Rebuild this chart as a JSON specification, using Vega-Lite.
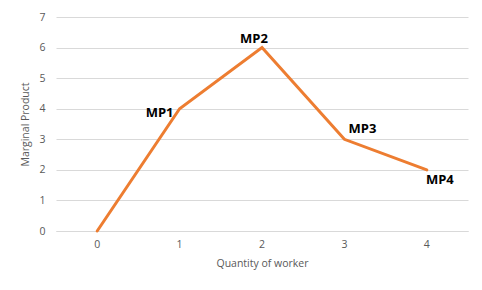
{
  "$schema": "https://vega.github.io/schema/vega-lite/v6.json",
  "autosize": "none",
  "width": 412,
  "height": 214,
  "padding": {"left": 56, "top": 17, "right": 14, "bottom": 59},
  "background": "white",
  "data": {"values": [
    {"q": "0", "mp": 0, "label": ""},
    {"q": "1", "mp": 4, "label": "MP1"},
    {"q": "2", "mp": 6, "label": "MP2"},
    {"q": "3", "mp": 3, "label": "MP3"},
    {"q": "4", "mp": 2, "label": "MP4"}
  ]},
  "config": {
    "view": {"stroke": null},
    "font": "Open Sans"
  },
  "encoding": {
    "x": {"field": "q", "type": "ordinal", "scale": {"type": "band", "paddingInner": 0, "paddingOuter": 0},
      "axis": {"title": "Quantity of worker", "labelAngle": 0, "domain": true, "domainColor": "#d9d9d9", "ticks": false, "labelPadding": 8, "labelColor": "#595959", "labelFontSize": 10.5, "titleColor": "#595959", "titleFontSize": 10.5, "titleFontWeight": "normal", "titlePadding": 9, "grid": false}},
    "y": {"field": "mp", "type": "quantitative", "scale": {"domain": [0, 7], "nice": false},
      "axis": {"title": "Marginal Product", "values": [0,1,2,3,4,5,6,7], "labelOverlap": false, "domain": false, "ticks": false, "labelPadding": 11, "labelColor": "#595959", "labelFontSize": 10.5, "titleColor": "#595959", "titleFontSize": 10.5, "titleFontWeight": "normal", "titlePadding": 8, "gridColor": "#d9d9d9"}}
  },
  "layer": [
    {"mark": {"type": "line", "color": "#ED7D31", "strokeWidth": 3, "strokeCap": "round"}},
    {"transform": [{"filter": "datum.label == 'MP1'"}], "mark": {"type": "text", "fontWeight": "bold", "fontSize": 13, "color": "black", "dx": -20, "dy": 4}, "encoding": {"text": {"field": "label"}}},
    {"transform": [{"filter": "datum.label == 'MP2'"}], "mark": {"type": "text", "fontWeight": "bold", "fontSize": 13, "color": "black", "dx": -8, "dy": -9}, "encoding": {"text": {"field": "label"}}},
    {"transform": [{"filter": "datum.label == 'MP3'"}], "mark": {"type": "text", "fontWeight": "bold", "fontSize": 13, "color": "black", "dx": 18, "dy": -10}, "encoding": {"text": {"field": "label"}}},
    {"transform": [{"filter": "datum.label == 'MP4'"}], "mark": {"type": "text", "fontWeight": "bold", "fontSize": 13, "color": "black", "dx": 13, "dy": 10}, "encoding": {"text": {"field": "label"}}}
  ]
}
